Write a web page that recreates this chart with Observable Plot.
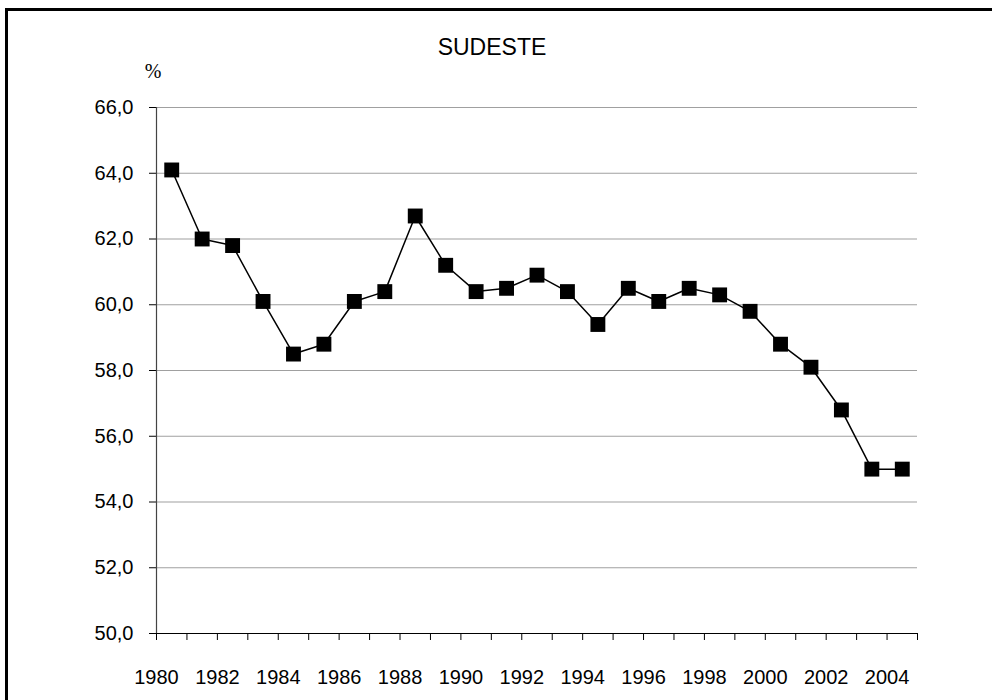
<!DOCTYPE html>
<html>
<head>
<meta charset="utf-8">
<script src="https://cdn.jsdelivr.net/npm/d3@7"></script>
<script src="https://cdn.jsdelivr.net/npm/@observablehq/plot@0.6"></script>
<style>
  html, body { margin: 0; padding: 0; background: #fff; overflow: hidden; }
  #wrap { position: relative; width: 992px; height: 700px; overflow: hidden; }
  #frame { position: absolute; left: 5px; top: 8px; width: 1100px; height: 1100px; border: 3px solid #000; box-sizing: border-box; }
  #title { position: absolute; left: 0; width: 984px; top: 36px; text-align: center; font: 23px/23px "Liberation Sans", Arial, sans-serif; color: #000; }
  #unit { position: absolute; left: 133px; width: 40px; top: 61px; text-align: center; font: 20px/20px "Liberation Serif", "Times New Roman", serif; color: #000; }
  #chart { position: absolute; left: 0; top: 0; }
</style>
</head>
<body>
<div id="wrap">
  <div id="frame"></div>
  <div id="chart"></div>
  <div id="title">SUDESTE</div>
  <div id="unit">%</div>
</div>
<script>
const years = [1980, 1981, 1982, 1983, 1984, 1985, 1986, 1987, 1988, 1989, 1990, 1991, 1992,
               1993, 1994, 1995, 1996, 1997, 1998, 1999, 2000, 2001, 2002, 2003, 2004];
const values = [64.1, 62.0, 61.8, 60.1, 58.5, 58.8, 60.1, 60.4, 62.7, 61.2, 60.4, 60.5, 60.9,
                60.4, 59.4, 60.5, 60.1, 60.5, 60.3, 59.8, 58.8, 58.1, 56.8, 55.0, 55.0];
const yTicks = [50, 52, 54, 56, 58, 60, 62, 64, 66];
const xLabelYears = [1980, 1982, 1984, 1986, 1988, 1990, 1992, 1994, 1996, 1998, 2000, 2002, 2004];
const xTickYears = d3.range(1980, 2006);

const data = years.map((y, i) => ({year: y, value: values[i]}));

const chart = Plot.plot({
  width: 992,
  height: 700,
  marginLeft: 156,
  marginRight: 75,
  marginTop: 107,
  marginBottom: 67,
  style: {fontSize: "20px", fontFamily: "'Liberation Sans', Arial, sans-serif", color: "#000", background: "transparent", overflow: "visible"},
  x: {type: "linear", domain: [1980, 2005]},
  y: {domain: [50, 66]},
  marks: [
    Plot.gridY(yTicks, {stroke: "#a0a0a0", strokeOpacity: 1, strokeWidth: 1.2}),
    Plot.axisY(yTicks, {tickSize: 7, tickPadding: 16, tickFormat: d => d.toFixed(1).replace(".", ","), label: null, stroke: "#000"}),
    Plot.axisX(xTickYears, {tickSize: 7, tickFormat: () => "", label: null, stroke: "#000"}),
    Plot.axisX(xLabelYears, {tickSize: 0, tickPadding: 36, tickFormat: d => String(d), label: null}),
    Plot.ruleX([1980], {stroke: "#444", strokeWidth: 1.2}),
    Plot.ruleY([50], {stroke: "#000", strokeWidth: 1.2}),
    Plot.line(data, {x: d => d.year + 0.5, y: "value", stroke: "#000", strokeWidth: 1.5}),
    Plot.dot(data, {x: d => d.year + 0.5, y: "value", symbol: "square", r: 8.4, fill: "#000", stroke: "none"})
  ]
});
document.getElementById("chart").appendChild(chart);
</script>
</body>
</html>
